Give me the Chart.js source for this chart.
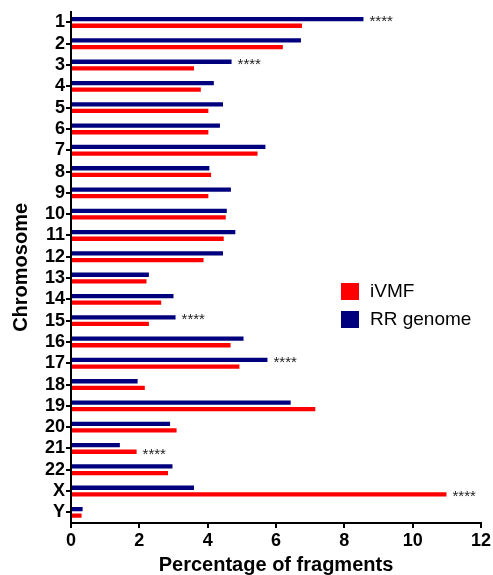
<!DOCTYPE html>
<html><head><meta charset="utf-8">
<script src="https://cdn.jsdelivr.net/npm/chart.js@4.4.1/dist/chart.umd.min.js"></script>
<style>html,body{margin:0;padding:0;background:#fff;}canvas{display:block;}</style>
</head><body>
<canvas id="c" width="493" height="575"></canvas>
<script>
const chromosomes = ['1','2','3','4','5','6','7','8','9','10','11','12','13','14','15','16','17','18','19','20','21','22','X','Y'];
const rrGenome = [8.56, 6.73, 4.70, 4.18, 4.45, 4.36, 5.69, 4.05, 4.68, 4.56, 4.81, 4.45, 2.28, 3.00, 3.06, 5.05, 5.75, 1.95, 6.43, 2.90, 1.43, 2.97, 3.60, 0.34];
const iVMF = [6.76, 6.20, 3.60, 3.80, 4.02, 4.02, 5.46, 4.10, 4.02, 4.53, 4.47, 3.88, 2.21, 2.64, 2.28, 4.67, 4.93, 2.16, 7.15, 3.09, 1.92, 2.84, 10.99, 0.31];
const significance = ['****','','****','','','','','','','','','','','','****','','****','','','','****','','****',''];
const xTickValues = [0, 2, 4, 6, 8, 10, 12];
const seriesNames = ['RR genome', 'iVMF'];
const legendOrder = ['iVMF', 'RR genome'];

const RED = '#FF0000', NAVY = '#00007F';
const FONT = "'Liberation Sans', Arial, sans-serif";
Chart.defaults.font.family = FONT;
Chart.defaults.color = '#000';

const starsPlugin = {
  id: 'stars',
  afterDatasetsDraw(chart) {
    const ctx = chart.ctx;
    const m0 = chart.getDatasetMeta(0), m1 = chart.getDatasetMeta(1);
    ctx.save();
    ctx.font = '15px ' + FONT;
    ctx.fillStyle = '#222';
    ctx.textAlign = 'left';
    ctx.textBaseline = 'middle';
    significance.forEach((s, i) => {
      if (!s) return;
      const el = rrGenome[i] >= iVMF[i] ? m0.data[i] : m1.data[i];
      ctx.fillText(s, el.x + 6, el.y + 3);
    });
    ctx.restore();
  }
};

const legendPlugin = {
  id: 'customLegend',
  afterDraw(chart) {
    const ctx = chart.ctx, a = chart.chartArea;
    const x0 = a.left + 270, y0 = 283;
    ctx.save();
    ctx.font = '19px ' + FONT;
    ctx.textBaseline = 'middle';
    ctx.textAlign = 'left';
    legendOrder.forEach((name, i) => {
      const ds = chart.data.datasets.find(d => d.label === name);
      ctx.fillStyle = ds.backgroundColor;
      ctx.fillRect(x0, y0 + i * 28, 18, 17);
      ctx.fillStyle = '#000';
      ctx.fillText(name, x0 + 29, y0 + i * 28 + 9);
    });
    ctx.restore();
  }
};

new Chart(document.getElementById('c'), {
  type: 'bar',
  data: {
    labels: chromosomes,
    datasets: [
      { label: seriesNames[0], data: rrGenome, backgroundColor: NAVY, borderWidth: 0, categoryPercentage: 0.62, barPercentage: 0.65 },
      { label: seriesNames[1], data: iVMF, backgroundColor: RED, borderWidth: 0, categoryPercentage: 0.62, barPercentage: 0.65 }
    ]
  },
  options: {
    indexAxis: 'y',
    responsive: false,
    animation: false,
    devicePixelRatio: 1,
    layout: { padding: { top: 8, right: 11, left: 0, bottom: 0 } },
    plugins: { legend: { display: false }, tooltip: { enabled: false } },
    scales: {
      x: {
        min: 0, max: 12,
        afterBuildTicks(scale) { scale.ticks = xTickValues.map(v => ({ value: v })); },
        afterFit(scale) { scale.height = 52; },
        grid: { drawOnChartArea: false, drawTicks: true, tickLength: 5, color: '#000', lineWidth: 2 },
        border: { display: true, color: '#000', width: 2 },
        ticks: { font: { size: 18, weight: 'bold' }, color: '#000', padding: 2, maxRotation: 0 },
        title: { display: true, text: 'Percentage of fragments', font: { size: 20, weight: 'bold', lineHeight: 1 }, color: '#000', padding: { top: 0, bottom: 0 } }
      },
      y: {
        afterFit(scale) { scale.width = 71; },
        grid: { drawOnChartArea: false, drawTicks: true, tickLength: 5, color: '#000', lineWidth: 2, offset: false },
        border: { display: true, color: '#000', width: 2 },
        ticks: { font: { size: 18, weight: 'bold' }, color: '#000', padding: 1, autoSkip: false },
        title: { display: true, text: 'Chromosome', font: { size: 20, weight: 'bold', lineHeight: 1.2 }, color: '#000', padding: { top: 9, bottom: 0 } }
      }
    }
  },
  plugins: [starsPlugin, legendPlugin]
});
</script>
</body></html>
